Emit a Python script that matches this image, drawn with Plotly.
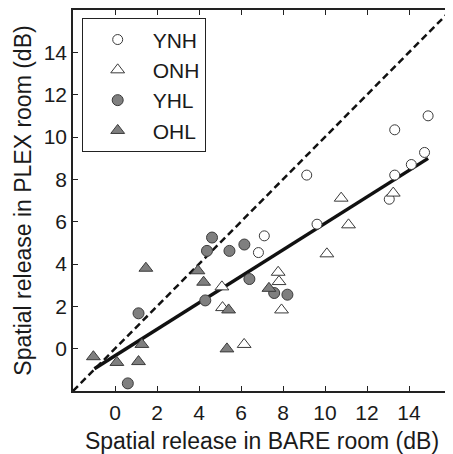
import plotly.graph_objects as go

# ---- data ----
ynh_x = [14.91, 13.32, 14.74, 14.11, 13.32, 9.13, 13.06, 9.62, 7.11, 6.83]
ynh_y = [11.00, 10.34, 9.27, 8.70, 8.20, 8.20, 7.06, 5.88, 5.33, 4.54]

onh_x = [11.12, 10.09, 7.77, 7.81, 7.93, 10.77, 13.25, 5.09, 5.12, 6.15]
onh_y = [5.85, 4.48, 3.61, 3.17, 1.83, 7.11, 7.35, 2.92, 1.94, 0.20]

yhl_x = [4.62, 4.38, 5.45, 6.16, 6.40, 4.30, 1.12, 0.61, 7.58, 8.21]
yhl_y = [5.25, 4.62, 4.62, 4.92, 3.29, 2.28, 1.67, -1.64, 2.63, 2.55]

ohl_x = [1.47, 3.95, 4.22, 5.41, 5.33, 1.28, -1.03, 0.09, 1.12, 7.33]
ohl_y = [3.80, 3.68, 3.14, 1.83, -0.01, 0.20, -0.38, -0.65, -0.61, 2.85]

fit_x = [-0.98, 14.91]
fit_y = [-0.95, 8.99]

ident = [-2, 16]

x_ticks = [0, 2, 4, 6, 8, 10, 12, 14]
y_ticks = [0, 2, 4, 6, 8, 10, 12, 14]

x_title = "Spatial release in BARE room (dB)"
y_title = "Spatial release in PLEX room (dB)"

FILL = "#7f7f7f"
EDGE = "#3a3a3a"

fig = go.Figure()

fig.add_trace(go.Scatter(x=ident, y=ident, mode="lines", showlegend=False,
                         line=dict(color="#111111", width=2.5, dash="7px,4px"),
                         hoverinfo="skip"))
fig.add_trace(go.Scatter(x=fit_x, y=fit_y, mode="lines", showlegend=False,
                         line=dict(color="#111111", width=3.5),
                         hoverinfo="skip"))

fig.add_trace(go.Scatter(x=ynh_x, y=ynh_y, mode="markers", name="YNH",
                         marker=dict(symbol="circle", size=10, color="white",
                                     line=dict(color=EDGE, width=1))))
fig.add_trace(go.Scatter(x=onh_x, y=onh_y, mode="markers", name="ONH",
                         marker=dict(symbol="triangle-up", size=12, color="white",
                                     line=dict(color=EDGE, width=1))))
fig.add_trace(go.Scatter(x=yhl_x, y=yhl_y, mode="markers", name="YHL",
                         marker=dict(symbol="circle", size=11, color=FILL,
                                     line=dict(color=EDGE, width=1))))
fig.add_trace(go.Scatter(x=ohl_x, y=ohl_y, mode="markers", name="OHL",
                         marker=dict(symbol="triangle-up", size=12, color=FILL,
                                     line=dict(color=EDGE, width=1))))

axis_common = dict(
    showgrid=False, zeroline=False, showline=True, linecolor="#222222",
    linewidth=1.5, mirror="ticks", ticks="inside", ticklen=5, tickwidth=1,
    tickcolor="#222222", tickfont=dict(size=21, color="#1a1a1a"),
)

# the page body has an 8px default margin, so the figure is sized/offset to compensate
fig.update_layout(
    width=445, height=446,
    margin=dict(l=65, r=0, t=2, b=63),
    paper_bgcolor="white", plot_bgcolor="white",
    font=dict(family="Liberation Sans, Arial, sans-serif", color="#1a1a1a"),
    xaxis=dict(range=[-2, 16], tickvals=x_ticks, ticklabelstandoff=2,
               title=dict(text=x_title, font=dict(size=23), standoff=10),
               **axis_common),
    yaxis=dict(range=[-2, 16], tickvals=y_ticks,
               title=dict(text=y_title, font=dict(size=23), standoff=6),
               **axis_common),
    legend=dict(x=0.023, y=0.978, xanchor="left", yanchor="top",
                bgcolor="white", bordercolor="#222222", borderwidth=1,
                font=dict(size=21), itemwidth=60, tracegroupgap=0),
)

fig.write_html("out.html")
